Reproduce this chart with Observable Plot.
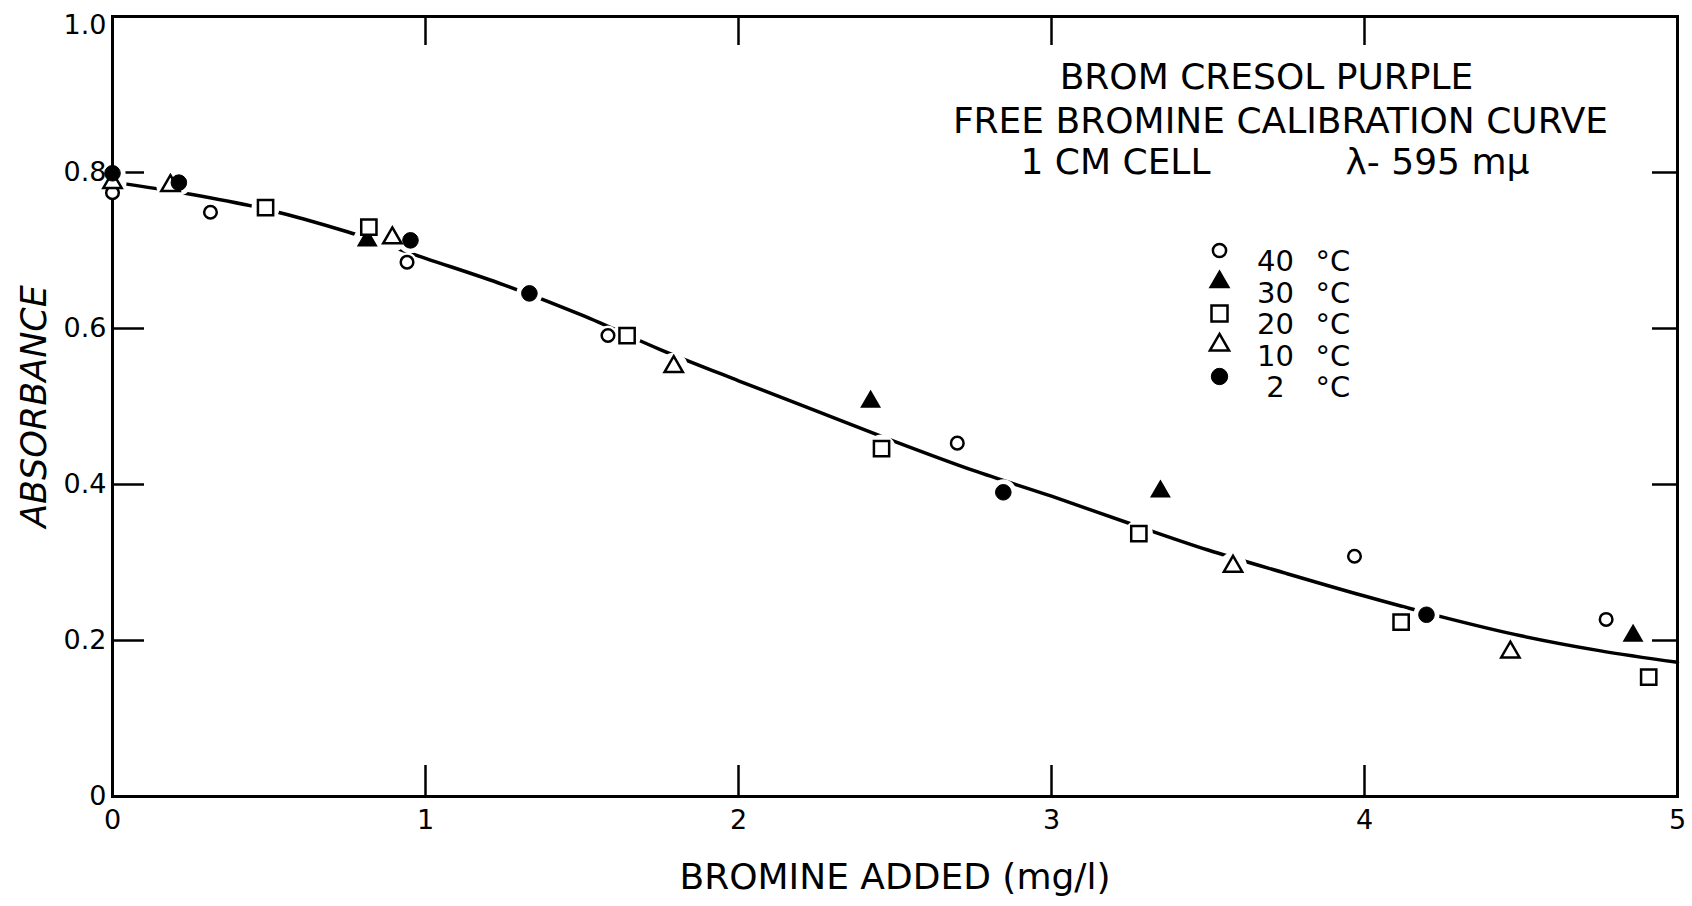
<!DOCTYPE html>
<html><head><meta charset="utf-8">
<script src="https://cdn.jsdelivr.net/npm/d3@7"></script>
<script src="https://cdn.jsdelivr.net/npm/@observablehq/plot@0.6"></script>
<style>body{margin:0;background:#fff;} #chart{width:1692px;height:906px;}</style>
</head><body><div id="chart"></div>
<script>
// ---- axis ticks ----
const xTicks = [0, 1, 2, 3, 4, 5];
const xTickLabels = ["0", "1", "2", "3", "4", "5"];
const yTicks = [0, 0.2, 0.4, 0.6, 0.8, 1.0];
const yTickLabels = ["0", "0.2", "0.4", "0.6", "0.8", "1.0"];
const innerXTicks = [1, 2, 3, 4];
const innerYTicks = [0.2, 0.4, 0.6, 0.8];

// ---- measured points (bromine added mg/l, absorbance) ----
const t40x = [0, 0.313, 0.941, 1.583, 2.699, 3.968, 4.772];
const t40y = [0.774, 0.749, 0.685, 0.591, 0.453, 0.308, 0.227];
const t30x = [0.814, 2.422, 3.348, 4.858];
const t30y = [0.713, 0.506, 0.391, 0.206];
const t20x = [0.489, 0.819, 1.644, 2.457, 3.279, 4.117, 4.908];
const t20y = [0.755, 0.730, 0.591, 0.446, 0.337, 0.2235, 0.153];
const t10x = [0, 0.185, 0.894, 1.793, 3.580, 4.466];
const t10y = [0.787, 0.783, 0.716, 0.551, 0.295, 0.185];
const t2x = [0, 0.212, 0.952, 1.332, 2.846, 4.198];
const t2y = [0.799, 0.787, 0.713, 0.645, 0.390, 0.233];

// ---- calibration curve ----
const curveX = [0, 0.25, 0.5, 0.75, 1.0, 1.25, 1.5, 1.75, 2.0, 2.25, 2.5, 2.75, 3.0, 3.25, 3.5, 3.75, 4.0, 4.25, 4.5, 4.75, 5.0];
const curveY = [0.788, 0.772, 0.752, 0.724, 0.690, 0.656, 0.617, 0.573, 0.533, 0.494, 0.455, 0.418, 0.385, 0.350, 0.316, 0.286, 0.257, 0.230, 0.206, 0.187, 0.172];

// ---- texts ----
const titleLine1 = "BROM CRESOL PURPLE";
const titleLine2 = "FREE BROMINE CALIBRATION CURVE";
const cellLabel = "1 CM CELL";
const waveLabel = "λ- 595 mμ";
const legendTemps = ["40", "30", "20", "10", "2"];
const legendUnit = "°C";
const xTitle = "BROMINE ADDED (mg/l)";
const yTitle = "ABSORBANCE";

const pts = (xs, ys) => xs.map((x, i) => ({x, y: ys[i]}));
const series = [
  {data: pts(t40x, t40y), symbol: "circle",   r: 6.3, fill: "white", sw: 2.5, halo: 10},
  {data: pts(t30x, t30y), symbol: "triangle", r: 6.8, fill: "black", sw: 1.5, halo: 14},
  {data: pts(t20x, t20y), symbol: "square",   r: 8.6, fill: "white", sw: 2.5, halo: 14},
  {data: pts(t10x, t10y), symbol: "triangle", r: 6.8, fill: "white", sw: 2.5, halo: 14},
  {data: pts(t2x, t2y),   symbol: "circle",   r: 7.8, fill: "black", sw: 1,   halo: 13}
];
const curve = curveX.map((x, i) => ({x, y: curveY[i]}));

const W = 1692, H = 906, mL = 112, mR = 15, mT = 16, mB = 110;
const fw = W - mL - mR, fh = H - mT - mB;
const FONT = "DejaVu Sans";
const TICKFONT = 27;
const yLabel = d => yTickLabels[yTicks.indexOf(d)];
const xLabel = d => xTickLabels[xTicks.indexOf(d)];

const marks = [
  Plot.line(curve, {x: "x", y: "y", curve: "catmull-rom", stroke: "black", strokeWidth: 3.5}),
  // inward ticks on all four sides
  Plot.ruleX(innerXTicks, {x: d => d, insetTop: fh - 31, stroke: "black", strokeWidth: 2.5}),
  Plot.ruleX(innerXTicks, {x: d => d, insetBottom: fh - 29, stroke: "black", strokeWidth: 2.5}),
  Plot.ruleY(innerYTicks, {y: d => d, insetRight: fw - 32, stroke: "black", strokeWidth: 2.5}),
  Plot.ruleY(innerYTicks, {y: d => d, insetLeft: fw - 25, stroke: "black", strokeWidth: 2.5}),
  // white halos that break the curve around the symbols
  ...series.map(s => Plot.dot(s.data, {x: "x", y: "y", r: s.halo, fill: "white", stroke: "none"})),
  Plot.frame({stroke: "black", strokeWidth: 3}),
  ...series.map(s => Plot.dot(s.data, {x: "x", y: "y", symbol: s.symbol, r: s.r, fill: s.fill, stroke: "black", strokeWidth: s.sw})),
  // tick labels
  Plot.text(xTicks, {x: d => d, text: xLabel, frameAnchor: "bottom", dy: 13, lineAnchor: "top", textAnchor: "middle", fontSize: TICKFONT}),
  Plot.text(yTicks.slice(0, 5), {y: d => d, text: yLabel, frameAnchor: "left", dx: -6, textAnchor: "end", lineAnchor: "middle", fontSize: TICKFONT}),
  Plot.text(yTicks.slice(5), {y: d => d, text: yLabel, frameAnchor: "left", dx: -6, dy: 9, textAnchor: "end", lineAnchor: "middle", fontSize: TICKFONT}),
  // axis titles
  Plot.text([xTitle], {text: d => d, frameAnchor: "bottom", dy: 92, lineAnchor: "bottom", textAnchor: "middle", fontSize: 36}),
  Plot.text([yTitle], {text: d => d, frameAnchor: "left", dx: -78, rotate: -90, textAnchor: "middle", lineAnchor: "middle", fontSize: 35, fontStyle: "italic"}),
  // annotation block
  Plot.text([titleLine1], {text: d => d, frameAnchor: "top-left", dx: 1154, dy: 72, lineAnchor: "bottom", textAnchor: "middle", fontSize: 36}),
  Plot.text([titleLine2], {text: d => d, frameAnchor: "top-left", dx: 1168, dy: 116, lineAnchor: "bottom", textAnchor: "middle", fontSize: 36}),
  Plot.text([cellLabel], {text: d => d, frameAnchor: "top-left", dx: 908, dy: 157, lineAnchor: "bottom", textAnchor: "start", fontSize: 36}),
  Plot.text([waveLabel], {text: d => d, frameAnchor: "top-left", dx: 1233, dy: 157, lineAnchor: "bottom", textAnchor: "start", fontSize: 36}),
  // legend
  ...series.map((s, i) => Plot.dot([legendTemps[i]], {frameAnchor: "top-left", dx: 1107, dy: 234 + i * 31.5,
    symbol: s.symbol, r: s.r * 1.05, fill: s.fill, stroke: "black", strokeWidth: s.sw})),
  ...legendTemps.map((t, i) => Plot.text([t], {text: d => d, frameAnchor: "top-left", dx: 1163, dy: 234 + i * 31.5,
    textAnchor: "middle", fontSize: 29})),
  ...legendTemps.map((t, i) => Plot.text([legendUnit], {text: d => d, frameAnchor: "top-left", dx: 1203, dy: 234 + i * 31.5,
    textAnchor: "start", fontSize: 29}))
];

const chart = Plot.plot({
  width: W, height: H,
  marginLeft: mL, marginRight: mR, marginTop: mT, marginBottom: mB,
  x: {domain: [0, 5], axis: null},
  y: {domain: [0, 1], axis: null},
  style: {fontFamily: FONT, fontSize: "27px", background: "white", color: "black", overflow: "visible"},
  marks
});
document.getElementById("chart").appendChild(chart);
</script>
</body></html>
